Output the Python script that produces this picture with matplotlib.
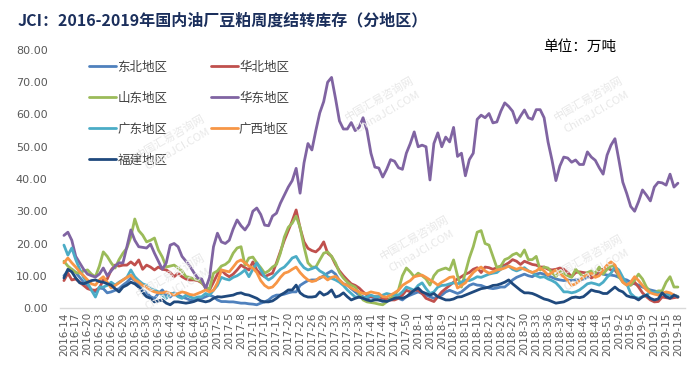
import matplotlib
matplotlib.use("Agg")
import matplotlib.pyplot as plt

plt.rcParams['font.family'] = ['Noto Sans CJK SC', 'DejaVu Sans']

# ---- categories (weekly, some holiday weeks missing) ----
skip = {"2016-31", "2018-7", "2018-8", "2019-6"}
spans = [(2016, 14, 52), (2017, 1, 52), (2018, 1, 52), (2019, 1, 18)]
weeks = [f"{y}-{w}" for y, a, b in spans for w in range(a, b + 1) if f"{y}-{w}" not in skip]

series_names = ["东北地区", "华北地区", "山东地区", "华东地区", "广东地区", "广西地区", "福建地区"]
colors = ["#4F81BD", "#C0504D", "#9BBB59", "#8064A2", "#4BACC6", "#F79646", "#1F497D"]

dongbei = [10, 11.5, 12, 11, 9.5, 8, 7, 5.6, 5, 6.2,
           6, 4.7, 5, 5.5, 6, 7.1, 8, 9.3, 8.5, 7.1,
           5.5, 4.7, 3.5, 3, 4.5, 5.6, 4, 3.4, 4.7, 4,
           3.4, 3, 2.5, 2.5, 3, 3, 3.5, 4, 3.5, 2.5,
           2, 2, 1.9, 1.9, 1.7, 1.5, 1.5, 1.3, 1.2, 1,
           1.5, 1.9, 2.5, 3.5, 4, 4, 4.3, 4.7, 5, 5,
           7, 7.8, 8.5, 8.7, 8.7, 9.2, 10, 10.8, 11.5, 10.5,
           8.5, 7.5, 7.1, 6, 5, 4, 3.5, 3, 3.5, 3,
           2.5, 2, 2.5, 3, 3.5, 3, 2.5, 3.5, 4, 4.5,
           5, 4.5, 4, 3.5, 3, 3.5, 4, 5, 5.5, 5,
           4.5, 5, 6, 7, 7.5, 7.1, 7, 6.5, 6.2, 6,
           6.2, 6.5, 6.5, 7.5, 8.7, 9.5, 10, 10.5, 10, 9.7,
           10.5, 10.8, 10.5, 10, 9.5, 9, 8.7, 8.5, 8.7, 8.5,
           8.7, 8.7, 9, 9.5, 10, 10.5, 10.8, 10.5, 10.2, 10.2,
           10, 9.5, 9, 8.7, 8, 7.5, 7.1, 6.5, 6, 5.6,
           5.3, 5, 4.7, 4.5, 4.2, 4, 3.4]

huabei = [8.5, 10.8, 8.7, 9, 8, 7, 6, 5.6, 5.5, 6.2,
          8.7, 9, 11.8, 13.3, 13, 13.3, 13.3, 14.3, 13.3, 14.9,
          12, 13.3, 12.7, 11.8, 12.7, 12, 11.8, 11, 9.7, 10.8,
          9.7, 9, 8.7, 8.7, 8.5, 7.8, 6.5, 5.6, 8, 10.5,
          11.8, 10.5, 9.7, 10.5, 11.8, 13.3, 12.5, 11.8, 14.3, 11.8,
          10.5, 9.7, 10.3, 10.8, 14, 17.5, 21, 24, 27, 30.4,
          24.8, 20.5, 18.5, 17.8, 17.4, 18.5, 20.5, 17, 16, 13.5,
          11.5, 10, 8.7, 7.5, 7, 6.2, 5, 4, 3.5, 3.5,
          3.5, 3, 2.8, 2.5, 2.5, 3, 4, 5.5, 5, 5.5,
          5.5, 4.5, 3, 2.5, 2, 3.5, 5, 6, 7, 8,
          9, 9.7, 10.5, 11, 12, 12.5, 11, 12.7, 12.5, 12,
          12.5, 13, 13.3, 14, 15, 14.5, 13.5, 14.5, 14, 13.5,
          13.3, 12.7, 12.7, 12, 11.8, 12, 12.4, 12, 11, 9.7,
          11, 11.2, 11, 10.8, 9.3, 10, 11.8, 12, 12.4, 11.8,
          11.8, 10, 8.7, 7.5, 7.1, 8, 6.5, 4.7, 3.5, 2.5,
          1.9, 2, 3.4, 3.2, 3, 3.2, 3.4]

shandong = [14.5, 13, 12, 11, 10.8, 11.5, 11.8, 10.5, 9.7, 13,
            17.4, 16, 14, 12.4, 15, 17, 18.6, 22, 27.6, 24,
            22.6, 20.5, 21, 21.7, 18, 15.8, 12.7, 13, 13.3, 12.4,
            11.5, 9.7, 9.5, 9, 8.7, 8, 6.2, 6, 10.8, 11.5,
            13, 13.5, 14.5, 17, 18.6, 19, 13.3, 15.5, 15.8, 14,
            12.5, 10.8, 11.5, 12.7, 13.5, 17, 22, 25, 26.3, 28.5,
            25, 19, 14, 12.7, 12.7, 14.9, 17, 17.4, 16, 14,
            11, 9.3, 8, 7.1, 6.5, 4.5, 2.5, 1.9, 1.7, 1.5,
            1.2, 1, 1.9, 3, 4, 5.6, 10, 12.4, 11.2, 9.7,
            10.8, 10, 9, 7.1, 10, 11.5, 12, 12.4, 11.8, 14.9,
            10, 6.5, 11, 15.5, 19, 23.5, 24, 20, 19.5, 16,
            12.5, 13, 15, 15.5, 16.5, 17, 16, 18, 15, 15,
            16, 11.8, 12.7, 12.4, 11, 9.7, 11.5, 10.8, 10, 9.5,
            12, 10.8, 9.5, 11, 11.5, 10.8, 12.7, 10.5, 12, 13,
            13, 9.7, 8, 7.1, 7.1, 8.7, 10.5, 9, 6.5, 5,
            4.7, 5.3, 5.3, 8, 9.7, 6.5, 6.5]

huadong = [22.5, 23.5, 21, 16, 14, 12, 10.5, 10, 9.6, 10.5,
           12.4, 10, 11.5, 13, 14, 14, 19, 24.2, 21, 19,
           18.8, 18.6, 19.8, 17, 14.5, 12, 14, 19.5, 20, 19,
           16, 14.5, 13, 11, 9.3, 9, 6, 9.5, 19, 23.2,
           20.5, 20, 21, 24.5, 27.3, 25.5, 24.2, 26, 30, 31,
           29, 25.7, 25.5, 28.5, 29.4, 32.5, 35, 37.5, 39.5, 43.3,
           35.6, 45, 51, 49, 55, 60.5, 64, 70, 71.5, 65,
           58, 55.5, 55.5, 57.5, 55, 56, 59, 55, 48, 43.7,
           43.4, 40.6, 43, 46, 45.5, 43.5, 43, 48, 51, 54.6,
           50, 50.5, 50, 39.7, 51, 54.3, 50, 53, 51.5, 56,
           47, 48, 41, 46, 48, 58.5, 59.8, 59, 60.3, 57.4,
           57.7, 61, 63.6, 62.5, 61, 57.4, 59.5, 61.4, 59, 58.5,
           61.5, 61.5, 59, 51.5, 45.9, 39.5, 44, 46.8, 46.5, 45.2,
           45.9, 44.5, 44.5, 48.4, 46.8, 45.8, 43.5, 41.5, 47.4, 50.5,
           52.5, 45.9, 39, 35.5, 31.5, 30, 33, 36.6, 35, 33.2,
           37.5, 39, 38.8, 38.1, 41.5, 37.5, 38.7]

guangdong = [19.5, 16.4, 18.6, 15, 12, 9.5, 7.8, 5.5, 3.4, 6.5,
             6.5, 7, 8, 7.1, 8, 8.7, 9.5, 11.8, 9.7, 8.5,
             7.5, 7, 6, 5.6, 5, 4, 3, 4.5, 4.5, 3.5,
             3, 4, 3.5, 3, 3.4, 3.5, 4.5, 4, 5.5, 7,
             9.5, 9, 8.7, 9.5, 10, 10.8, 11.8, 9.7, 12, 14,
             11.8, 9.7, 8.7, 9.5, 10.8, 12, 12.7, 14, 15.5, 16,
             14, 12.5, 11.8, 12.2, 12.7, 11.5, 10.8, 9.7, 9.2, 8.7,
             8, 7, 5.6, 4.5, 3.4, 3.4, 3, 3.5, 4, 3.5,
             3.5, 4, 4.5, 4.2, 4, 4, 5, 6.5, 6, 5.5,
             7, 7.8, 6, 4.5, 5, 6.5, 7, 7.1, 7.5, 7.8,
             7.5, 8, 8.7, 8.5, 9, 9.7, 9.5, 10, 10.5, 10.8,
             11, 12, 12.7, 13, 12, 11.5, 12, 12.5, 11.5, 11,
             10, 9.5, 9.7, 9, 8.5, 7.8, 6.5, 5, 5, 4.7,
             5, 5.6, 6.5, 7.5, 7.8, 7.5, 7.1, 8, 9.5, 10.8,
             12.7, 11.8, 9.5, 7.5, 4.5, 3.4, 3, 3.5, 4, 5,
             4.8, 4.7, 4.3, 4, 4, 4, 3.6]

guangxi = [14, 15.5, 14, 12.7, 11.2, 10, 8.7, 7.5, 7.1, 8.7,
           9.7, 8, 6.2, 7, 7.8, 8.7, 9.5, 10.2, 8.7, 8,
           7, 6.5, 5.5, 5, 4.7, 4.7, 5, 4.5, 4, 4.5,
           5, 4.7, 4.2, 4, 4.5, 5, 5.6, 5, 5.5, 7.8,
           11.8, 11.5, 11.2, 12.7, 14.3, 14.9, 14, 13, 12.4, 11,
           8.5, 7, 6.2, 6.5, 7.8, 9.5, 10.8, 11.2, 12, 12.7,
           11, 9.7, 8.7, 8.2, 8.5, 9.5, 9.7, 8.7, 9.5, 9.8,
           8.7, 7.5, 7, 6.2, 5.5, 5, 4.5, 4.5, 5, 4.7,
           4.5, 3.5, 3.4, 4, 4.7, 5.5, 7, 7.8, 8.5, 9.7,
           10, 10.2, 9.5, 8.7, 8, 7.1, 8, 8.7, 9.5, 9.7,
           6.2, 7, 7.8, 9.5, 11, 12, 12.7, 11.5, 10.8, 11.2,
           11.8, 12, 12.4, 13, 12.5, 12, 12.5, 12, 11.5, 11,
           11.5, 12.4, 11.5, 10.2, 11, 11.8, 10.5, 9.7, 8.5, 7,
           7.5, 8.5, 9.7, 10.3, 10.8, 9.5, 10, 11.8, 13.3, 14.3,
           13.3, 10.5, 8, 7.1, 8, 9.7, 8.5, 7, 5.6, 4.7,
           4.3, 4, 4.5, 5, 4.7, 4, 3.4]

fujian = [9.3, 12, 11.2, 9.3, 7.8, 7.5, 8, 8.5, 8.7, 8.2,
          8, 7.5, 7.1, 6, 5, 6.5, 7.1, 8, 7.5, 6.5,
          4.7, 3.5, 3, 1.9, 2.2, 2.5, 1.5, 1, 1.9, 1.9,
          1.7, 1.5, 1.7, 2, 2.5, 2.2, 1.9, 2.2, 3, 3.5,
          3.4, 3.6, 3.8, 4, 4.5, 4.7, 4.2, 4, 3.5, 3,
          2.2, 1.9, 1.9, 2.2, 3, 4, 4.7, 5.6, 5.6, 7.1,
          4.7, 3.8, 3.4, 3.4, 3.6, 5, 4, 4.5, 5.6, 3.4,
          3.8, 4.7, 3.5, 2.5, 3, 3.4, 3, 2.5, 2.2, 2.5,
          2.5, 2.2, 2, 2.5, 3, 3.2, 3, 3.5, 4.5, 5.5,
          6.2, 5, 4.5, 4, 4.5, 3.5, 3, 2.5, 2.5, 2.8,
          3.4, 3.5, 4, 4.5, 5, 5.5, 6, 6.2, 6.5, 7,
          7.1, 7.5, 8, 8.7, 7.5, 6.5, 5.5, 4.7, 4.7, 4.5,
          4, 3.4, 2.8, 2.5, 2, 1.5, 1.7, 1.9, 2.5, 3.2,
          3.4, 3.2, 3.5, 4.5, 5.6, 5.2, 5, 4.5, 4.5, 5.5,
          6.5, 5.5, 5, 3.8, 3.4, 3.2, 2.5, 3.5, 4, 3,
          2.5, 2.8, 4.7, 3.5, 3, 4, 3.4]

y_ticks = [0, 10, 20, 30, 40, 50, 60, 70, 80]

all_series = [dongbei, huabei, shandong, huadong, guangdong, guangxi, fujian]

fig = plt.figure(figsize=(6.97, 3.76), dpi=100)
fig.patch.set_facecolor("white")
ax = fig.add_axes([60 / 697, 1 - 308 / 376, 625 / 697, 258 / 376])

# faint watermarks
for (wx, wy) in [(0.25, 0.62), (0.55, 0.72), (0.85, 0.72), (0.25, 0.25), (0.60, 0.35), (0.85, 0.30)]:
    fig.text(wx, wy, "中国汇易咨询网\nChinaJCI.COM", rotation=30, fontsize=8,
             color="#e8e8e8", ha="center", va="center", zorder=0, linespacing=1.6)

x = list(range(len(weeks)))
handles = []
for name, col, vals in zip(series_names, colors, all_series):
    h, = ax.plot(x, vals, color=col, lw=2.0, label=name, solid_joinstyle="round",
                 solid_capstyle="round", zorder=3)
    handles.append(h)

ax.set_ylim(0, 80)
ax.set_yticks(y_ticks)
ax.set_yticklabels([f"{v:.2f}" for v in y_ticks], fontsize=8, color="#595959",
                   family=["DejaVu Sans"])
ax.set_xlim(-1.0, len(weeks) + 0.8)
ax.set_xticks(x[::3])
ax.set_xticklabels(weeks[::3], rotation=90, fontsize=7.5, color="#595959",
                   family=["DejaVu Sans"])
ax.tick_params(axis="y", length=0, pad=9)
ax.tick_params(axis="x", length=0, pad=3)
for s in ["top", "right", "left"]:
    ax.spines[s].set_visible(False)
ax.spines["bottom"].set_color("#d9d9d9")
ax.spines["bottom"].set_linewidth(1.0)
ax.set_facecolor("none")

# row-wise legend order for a 2-column (column-major) legend
order = [0, 2, 4, 6, 1, 3, 5]
leg = ax.legend([handles[i] for i in order], [series_names[i] for i in order],
                loc="upper left", bbox_to_anchor=(0.0286, 1.002), ncol=2, frameon=False,
                fontsize=9, handlelength=2.15, handletextpad=0.12, columnspacing=3.45,
                labelspacing=1.44)
for t in leg.get_texts():
    t.set_color("#404040")

fig.text(18 / 697, 1 - 20 / 376, "JCI：2016-2019年国内油厂豆粕周度结转库存（分地区）",
         fontsize=11.5, fontweight="heavy", color="#1B2F5C", ha="left", va="center")
fig.text(543 / 697, 1 - 47 / 376, "单位：万吨", fontsize=10.5, color="#000000",
         ha="left", va="center")

fig.savefig("out.png", dpi=100, facecolor="white")
